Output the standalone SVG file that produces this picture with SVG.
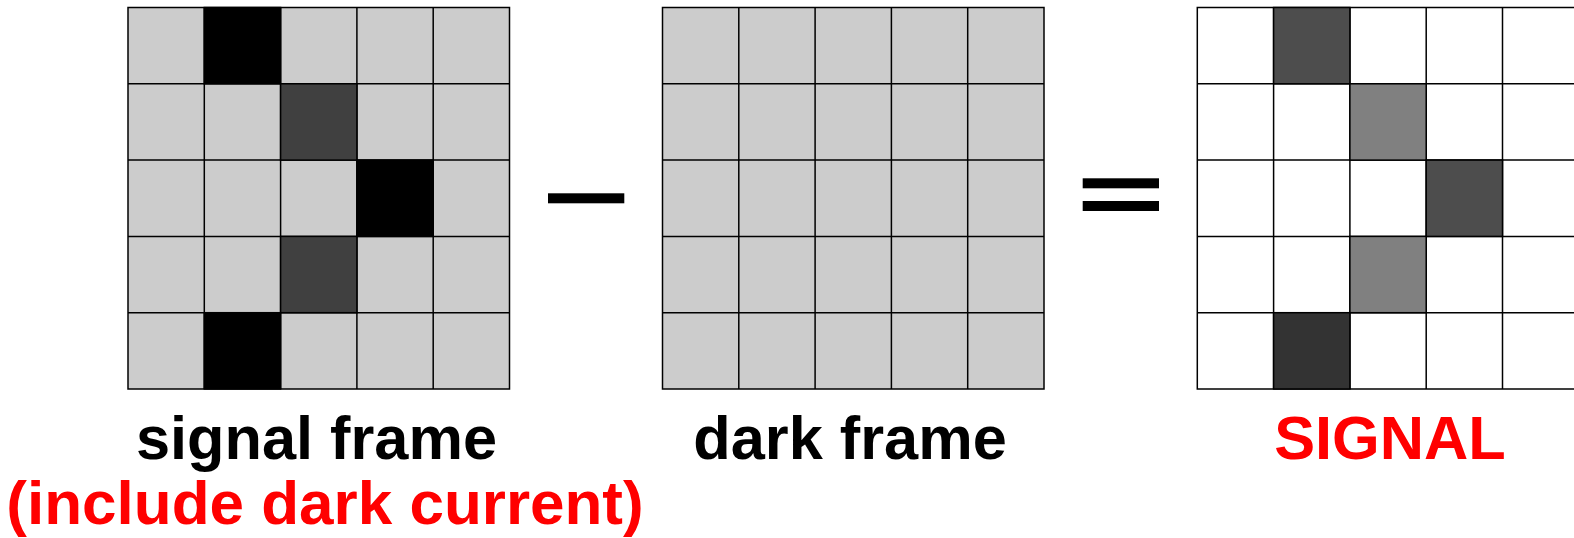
<svg xmlns="http://www.w3.org/2000/svg" width="1574" height="538" viewBox="0 0 1574 538">
  <style>
    .cell { stroke: #000; stroke-width: 1.5; }
    .grey { fill: #cccccc; }
    .white { fill: #ffffff; }
    .lbl { font-family: "Liberation Sans", Arial, sans-serif; font-weight: bold; font-size: 61.3px; text-anchor: middle; }
    .sub { font-size: 62px; }
    .black { fill: #000; }
    .red { fill: #ff0000; }
  </style>
  <defs>
    <!-- one 5x5 grid of 76.3px cells -->
    <g id="greyGrid">
      <rect class="cell grey" x="0" y="0" width="381.5" height="381.5"/>
      <path d="M76.3 0V381.5M152.6 0V381.5M228.9 0V381.5M305.2 0V381.5M0 76.3H381.5M0 152.6H381.5M0 228.9H381.5M0 305.2H381.5" stroke="#000" stroke-width="1.5" fill="none"/>
    </g>
    <g id="whiteGrid">
      <rect class="cell white" x="0" y="0" width="381.5" height="381.5"/>
      <path d="M76.3 0V381.5M152.6 0V381.5M228.9 0V381.5M305.2 0V381.5M0 76.3H381.5M0 152.6H381.5M0 228.9H381.5M0 305.2H381.5" stroke="#000" stroke-width="1.5" fill="none"/>
    </g>
  </defs>

  <!-- raw exposure including dark current -->
  <g id="signal-frame">
    <g transform="translate(128 7.5)">
      <use href="#greyGrid"/>
      <rect class="cell" fill="#000000" x="76.3" y="0" width="76.3" height="76.3"/>
      <rect class="cell" fill="#404040" x="152.6" y="76.3" width="76.3" height="76.3"/>
      <rect class="cell" fill="#000000" x="228.9" y="152.6" width="76.3" height="76.3"/>
      <rect class="cell" fill="#404040" x="152.6" y="228.9" width="76.3" height="76.3"/>
      <rect class="cell" fill="#000000" x="76.3" y="305.2" width="76.3" height="76.3"/>
    </g>
    <text class="lbl black" x="316.5" y="459">signal frame</text>
    <text class="lbl sub red" x="325" y="524">(include dark current)</text>
  </g>

  <!-- minus sign -->
  <g id="minus">
    <rect x="548" y="193.3" width="76.3" height="10" fill="#000"/>
  </g>

  <!-- dark frame -->
  <g id="dark-frame">
    <g transform="translate(662.5 7.5)">
      <use href="#greyGrid"/>
    </g>
    <text class="lbl black" x="850" y="459">dark frame</text>
  </g>

  <!-- equals sign -->
  <g id="equals">
    <rect x="1082.7" y="178.3" width="76.3" height="10" fill="#000"/>
    <rect x="1082.7" y="201" width="76.3" height="10" fill="#000"/>
  </g>

  <!-- difference -->
  <g id="signal-result">
    <g transform="translate(1197.3 7.5)">
      <use href="#whiteGrid"/>
      <rect class="cell" fill="#4d4d4d" x="76.3" y="0" width="76.3" height="76.3"/>
      <rect class="cell" fill="#808080" x="152.6" y="76.3" width="76.3" height="76.3"/>
      <rect class="cell" fill="#4d4d4d" x="228.9" y="152.6" width="76.3" height="76.3"/>
      <rect class="cell" fill="#808080" x="152.6" y="228.9" width="76.3" height="76.3"/>
      <rect class="cell" fill="#333333" x="76.3" y="305.2" width="76.3" height="76.3"/>
    </g>
    <text class="lbl red" x="1390" y="459">SIGNAL</text>
  </g>

  <g id="connectors"/>
</svg>
